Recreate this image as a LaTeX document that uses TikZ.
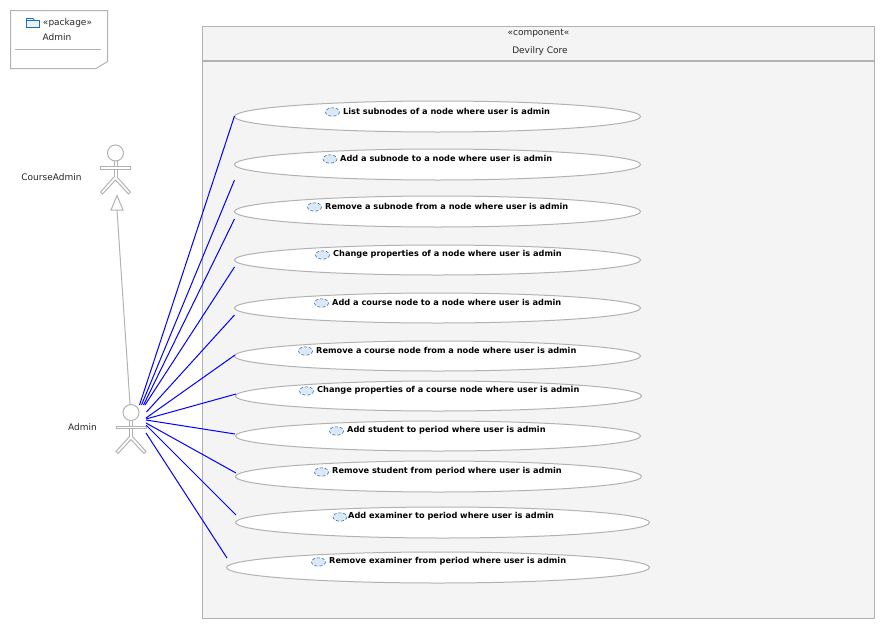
\documentclass[tikz,border=0pt]{standalone}
\usepackage{fontspec}
\setmainfont{DejaVu Sans}
\definecolor{linegray}{HTML}{B2B2B2}
\definecolor{boxfill}{HTML}{F4F4F4}
\definecolor{iconfill}{HTML}{DCE9F5}
\definecolor{iconline}{HTML}{1F6FB2}
\tikzset{
  plainlabel/.style={inner sep=0pt,font=\fontsize{9pt}{10pt}\selectfont,text=black!85},
  ucbox/.style={draw=linegray,fill=white,line width=1pt},
  uclabel/.style={inner sep=0pt,anchor=west,font=\fontsize{8.2pt}{10pt}\selectfont\bfseries},
  ucicon/.style={draw=iconline,fill=iconfill,densely dashed,line width=.6pt},
  assoc/.style={draw=blue,line width=1pt},
  actorline/.style={draw=linegray,line width=1pt},
}
\newcommand{\actorfig}[2]{%
  \draw[actorline] (#1,#2+8) circle (8);
  \draw[actorline] (#1-1.5,#2+16) -- (#1-1.5,#2+21.5) (#1+1.5,#2+16) -- (#1+1.5,#2+21.5)
     (#1-1.5,#2+24) -- (#1-1.5,#2+32) (#1+1.5,#2+24) -- (#1+1.5,#2+32);
  \draw[actorline] (#1-15,#2+21.5) rectangle (#1+15,#2+24);
  \draw[actorline] (#1-1.5,#2+32) -- (#1-15,#2+47) -- (#1-13,#2+49) -- (#1,#2+35) -- (#1+13,#2+49) -- (#1+15,#2+47) -- (#1+1.5,#2+32);
}
\begin{document}
\begin{tikzpicture}[x=1pt,y=-1pt]
\useasboundingbox (0,0) rectangle (885,629);
% package note
\draw[actorline] (10.5,10.5) -- (107.5,10.5) -- (107.5,61.5) -- (96,68.5) -- (10.5,68.5) -- cycle;
\draw[linegray,line width=.8pt] (15,49.5) -- (101,49.5);
\draw[iconline,fill=iconfill!60,line width=.8pt] (26.5,27.5) -- (26.5,18.5) -- (33,18.5) -- (34.5,20.5) -- (39.5,20.5) -- (39.5,27.5) -- cycle;
\draw[iconline,line width=.6pt] (26.5,20.5) -- (34.5,20.5);
\node[plainlabel] (pkgst) at (67.5,23) {«package»};
\node[plainlabel] (pkgname) at (57,37) {Admin};
% component
\draw[actorline,fill=boxfill] (202.5,26.5) rectangle (874.5,618.5);
\draw[linegray,line width=1.5pt] (202.5,61) -- (874.5,61);
\node[plainlabel] (compst) at (538.5,33) {«component«};
\node[plainlabel] (compname) at (540,51) {Devilry Core};
% use cases
\foreach \nm/\xa/\xb/\ya/\yb/\ix/\tx/\ty/\txt in {
 u1/234.5/640.5/101/132/332.5/343/111/List subnodes of a node where user is admin,
 u2/234.5/640.5/149/180/330/340/158/Add a subnode to a node where user is admin,
 u3/234.5/640.5/196/227/314.5/325/206/Remove a subnode from a node where user is admin,
 u4/234.5/640.5/245/275/322.5/333/254/Change properties of a node where user is admin,
 u5/234.5/640.5/293/323/321.5/332/302/Add a course node to a node where user is admin,
 u6/234.5/640.5/341/371/305.5/316/350/Remove a course node from a node where user is admin,
 u7/235.5/641.5/381/411/306.5/317/390/Change properties of a course node where user is admin,
 u8/235.5/640.5/421/451/336.5/347/430/Add student to period where user is admin,
 u9/235.5/641.5/461/492/321.5/332/471/Remove student from period where user is admin,
 u10/235.5/649.5/507/538/340/348/516/Add examiner to period where user is admin,
 u11/226.5/649.5/552/583/318.5/329/561/Remove examiner from period where user is admin}
{
  \draw[ucbox] ({(\xa+\xb)/2},{(\ya+\yb)/2}) ellipse ({(\xb-\xa)/2} and {(\yb-\ya)/2});
  \draw[ucicon] (\ix,\ty+1) ellipse (7 and 4.2);
  \node[uclabel] (\nm) at (\tx,\ty) {\txt};
}
% actors
\actorfig{115.5}{145}
\actorfig{131}{404.5}
\node[plainlabel] (courseadmin) at (51.5,177.5) {CourseAdmin};
\node[plainlabel] (admin) at (82.5,427.5) {Admin};
\coordinate (a0) at (130,404);
\coordinate (g0) at (117,210);
% generalisation
\draw[actorline] (a0) -- (g0);
\draw[actorline,fill=white] (117,195.5) -- (123,210) -- (111,210) -- cycle;
% associations
\foreach \n/\sx/\sy/\ex/\ey in {
 1/139.5/405/234.5/116,
 2/141.5/405/234.5/180,
 3/143.5/405/234.5/219,
 4/145/405/234.5/267,
 5/146.5/412/234.5/315,
 6/146/418/235/355,
 7/146/419/236/394,
 8/146/420/235/434,
 9/146/423/236/473,
 10/146/425/236/515,
 11/146/433/227/558}
{
  \coordinate (s\n) at (\sx,\sy);
  \coordinate (e\n) at (\ex,\ey);
  \draw[assoc] (s\n) -- (e\n);
}
\end{tikzpicture}
\end{document}
